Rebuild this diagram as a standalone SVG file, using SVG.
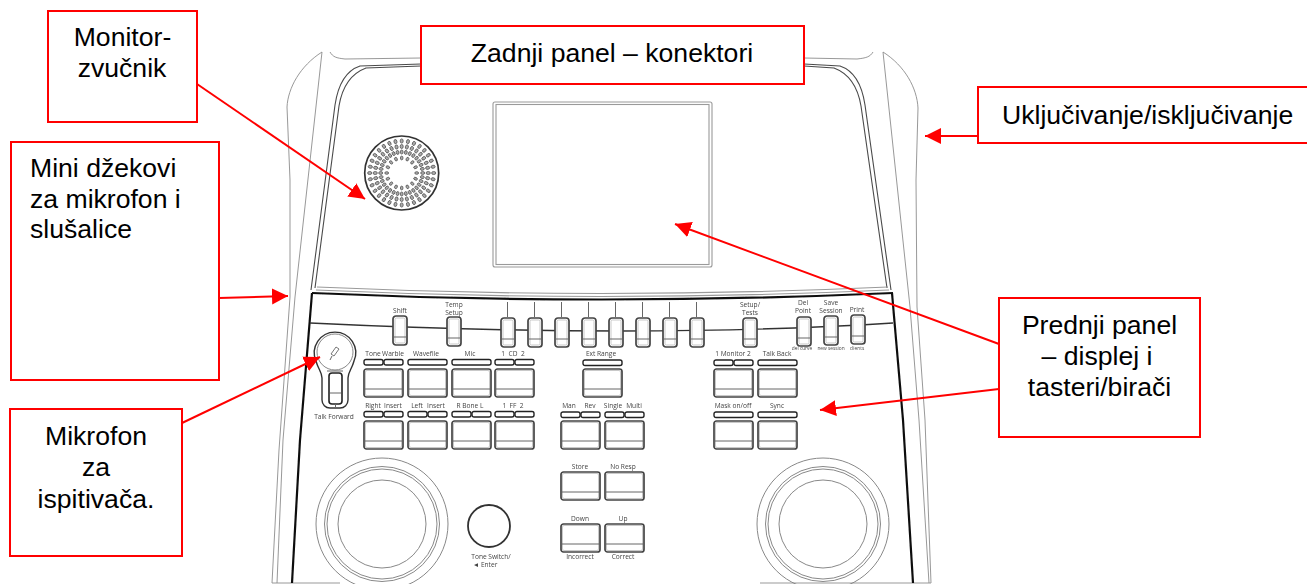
<svg xmlns="http://www.w3.org/2000/svg" width="1307" height="584" viewBox="0 0 1307 584">
<style>
.thin{fill:none;stroke:#8c8c8c;stroke-width:.9}
.bz{fill:none;stroke:#4a4a4a;stroke-width:1.1}
.lt{fill:none;stroke:#9a9a9a;stroke-width:1.1}
.hv{fill:none;stroke:#111;stroke-width:2.2}
.ln{fill:none;stroke:#333;stroke-width:1.4}
.tick{stroke:#666;stroke-width:1}
.b{fill:#fff;stroke:#444;stroke-width:1.7}
.bi{fill:none;stroke:#bbb;stroke-width:.8}
.bl{stroke:#666;stroke-width:1}
.p{fill:#fff;stroke:#222;stroke-width:1.4}
.k{fill:none;stroke:#888;stroke-width:1}
.h{fill:#aaa;stroke:#555;stroke-width:.8}
.t{font-family:"Open Sans","Liberation Sans",sans-serif;font-size:6.6px;fill:#444;text-anchor:middle}
.s{font-size:4.8px}
.box{fill:#fff;stroke:#f00;stroke-width:2}
.lab{font-family:"Liberation Sans",Arial,sans-serif;font-size:26.6px;fill:#000}
.m{text-anchor:middle}
.arr{fill:none;stroke:#f00;stroke-width:2;marker-end:url(#head)}
</style>
<defs>
<filter id="soft" x="-2%" y="-2%" width="104%" height="104%"><feGaussianBlur stdDeviation="0.35"/></filter>
<marker id="head" markerUnits="userSpaceOnUse" markerWidth="18" markerHeight="18" refX="16" refY="8" orient="auto"><path d="M0 0L16 8L0 16Z" fill="#f00"/></marker>
<g id="btn"><rect class="b" x="0" y="0" width="39" height="28" rx="2.5"/><rect class="bi" x="1.5" y="1.5" width="36" height="25" rx="1.5"/><path class="bl" d="M1 20H38"/></g>
<g id="tog"><rect class="b" x="0" y="0" width="14" height="29" rx="3"/><rect class="bi" x="2" y="2" width="10" height="25" rx="1.5"/><path class="bl" d="M1 21H13"/></g>
<rect id="p1" class="p" width="19" height="5.500" rx="2"/>
<rect id="p2" class="p" width="39" height="5.500" rx="2"/>
<g id="ray"><ellipse class="h" cx="401.700" cy="141" rx="1.500" ry="2.100"/><ellipse class="h" cx="401.700" cy="146.500" rx="1.500" ry="2.100"/><ellipse class="h" cx="401.700" cy="152" rx="1.400" ry="2"/></g>
<g id="pair"><use href="#ray"/><ellipse class="h" cx="401.700" cy="158" rx="1.300" ry="1.900"/><use href="#ray" transform="rotate(11.25 401.700 173)"/></g>
</defs>
<g id="device" filter="url(#soft)">
<path class="thin" d="M322 52C300 66 288 88 287 107L290 180V297L279 450L272 583"/>
<path class="thin" d="M322 52L295 297L283 440L277 583"/>
<path class="thin" d="M330 52C333 57 336 58 345 59L421 58"/>
<path class="thin" d="M883 52C905 66 917 88 918 108L916 180L917 307L925 420L931 583"/>
<path class="thin" d="M883 52L910 307L919 420L929 583"/>
<path class="thin" d="M873 52C870 57 866 58 857 59L804 58"/>
<path class="thin" d="M272 583H292M913 583H931"/>
<path class="lt" d="M292 583H340M760 583H913"/>
<path class="bz" d="M311 290L335 105C338 85 345 71 360 66L421 64"/>
<path class="bz" d="M315 288L339 106C342 88 350 74 366 68L421 66"/>
<path class="bz" d="M891 290L865 105C862 85 855 71 840 66L804 64"/>
<path class="bz" d="M887 288L861 106C858 88 850 74 834 68L804 66"/>
<rect class="lt" x="493" y="102" width="219" height="165" rx="2"/>
<rect class="lt" x="496" y="104.500" width="213" height="160"/>
<path class="lt" d="M317 287Q600 300 888 287"/>
<path class="lt" d="M316 290Q600 303 889 290"/>
<path class="hv" d="M312 293Q600 306 893 293"/>
<path class="hv" d="M312 293L300 440L292 583"/>
<path class="hv" d="M892 293L903 420L913 583"/>
<path class="ln" d="M310 323Q640 339 893 323"/>
<g id="speaker"><circle cx="401.700" cy="173" r="37" fill="#fff" stroke="#333" stroke-width="1.700"/>
<use href="#pair"/><use href="#pair" transform="rotate(22.5 401.700 173)"/><use href="#pair" transform="rotate(45 401.700 173)"/><use href="#pair" transform="rotate(67.5 401.700 173)"/><use href="#pair" transform="rotate(90 401.700 173)"/><use href="#pair" transform="rotate(112.5 401.700 173)"/><use href="#pair" transform="rotate(135 401.700 173)"/><use href="#pair" transform="rotate(157.5 401.700 173)"/><use href="#pair" transform="rotate(180 401.700 173)"/><use href="#pair" transform="rotate(202.5 401.700 173)"/><use href="#pair" transform="rotate(225 401.700 173)"/><use href="#pair" transform="rotate(247.5 401.700 173)"/><use href="#pair" transform="rotate(270 401.700 173)"/><use href="#pair" transform="rotate(292.5 401.700 173)"/><use href="#pair" transform="rotate(315 401.700 173)"/><use href="#pair" transform="rotate(337.5 401.700 173)"/></g>
<g id="toggles">
<use href="#tog" x="393" y="316"/><use href="#tog" x="447" y="317"/>
<use href="#tog" x="501" y="318"/><use href="#tog" x="528" y="318"/><use href="#tog" x="555" y="318"/><use href="#tog" x="582" y="318"/><use href="#tog" x="609" y="318"/><use href="#tog" x="636" y="318"/><use href="#tog" x="663" y="318"/><use href="#tog" x="690" y="318"/>
<use href="#tog" x="743" y="318"/><use href="#tog" x="797" y="317"/><use href="#tog" x="824" y="316"/><use href="#tog" x="851" y="315"/>
<path class="tick" d="M507.500 302V317M534.500 302V317M561.500 302V317M588.500 302V317M615.500 302V317M642.500 302V317M669.500 302V317M696.500 302V317"/>
</g>
<g id="pills">
<use href="#p1" x="364" y="359.500"/><use href="#p1" x="384" y="359.500"/><use href="#p2" x="408" y="359.500"/><use href="#p2" x="452" y="359.500"/><use href="#p1" x="495" y="359.500"/><use href="#p1" x="515" y="359.500"/>
<use href="#p2" x="583" y="360"/><use href="#p1" x="714" y="360"/><use href="#p1" x="734" y="360"/><use href="#p2" x="758" y="360"/>
<use href="#p1" x="364" y="411.500"/><use href="#p1" x="384" y="411.500"/><use href="#p1" x="408" y="411.500"/><use href="#p1" x="428" y="411.500"/><use href="#p1" x="452" y="411.500"/><use href="#p1" x="472" y="411.500"/><use href="#p1" x="495" y="411.500"/><use href="#p1" x="515" y="411.500"/>
<use href="#p1" x="561" y="412"/><use href="#p1" x="581" y="412"/><use href="#p1" x="605" y="412"/><use href="#p1" x="625" y="412"/><use href="#p2" x="714" y="412"/><use href="#p2" x="758" y="412"/>
</g>
<g id="buttons">
<use href="#btn" x="364" y="369"/><use href="#btn" x="408" y="369"/><use href="#btn" x="452" y="369"/><use href="#btn" x="495" y="369"/><use href="#btn" x="583" y="369"/><use href="#btn" x="714" y="369"/><use href="#btn" x="758" y="369"/>
<use href="#btn" x="364" y="421"/><use href="#btn" x="408" y="421"/><use href="#btn" x="452" y="421"/><use href="#btn" x="495" y="421"/><use href="#btn" x="561" y="421"/><use href="#btn" x="605" y="421"/><use href="#btn" x="714" y="421"/><use href="#btn" x="758" y="421"/>
<use href="#btn" x="561" y="472"/><use href="#btn" x="605" y="472"/><use href="#btn" x="561" y="524"/><use href="#btn" x="605" y="524"/>
</g>
<g id="mic">
<path d="M322 400V378C322 372 318 369 316 361A20.700 20.700 0 1 1 354 361C352 369 348 372 348 378V400A8 8 0 0 1 340 408H330A8 8 0 0 1 322 400Z" fill="#fff" stroke="#333" stroke-width="1.400"/>
<circle cx="335" cy="352" r="18" fill="#fff" stroke="#888" stroke-width="1"/>
<rect x="329" y="373" width="13" height="31" rx="3" fill="#fff" stroke="#222" stroke-width="1.600"/>
<path class="bl" d="M330 393H341M335.500 404V408M327 371H343"/>
<path d="M336 347L339 349L334 356L331 354Z" fill="#fff" stroke="#666" stroke-width=".9"/><path class="tick" d="M332 356L330 360"/>
</g>
<g id="knobs">
<circle class="k" cx="382" cy="524" r="66"/><circle class="k" cx="382" cy="524" r="57.500"/><circle class="k" cx="382" cy="524" r="55"/><circle class="k" cx="382" cy="524" r="44"/>
<circle class="k" cx="823" cy="524" r="66"/><circle class="k" cx="823" cy="524" r="57.500"/><circle class="k" cx="823" cy="524" r="55"/><circle class="k" cx="823" cy="524" r="44"/>
<circle cx="489" cy="526" r="21" fill="#fff" stroke="#333" stroke-width="1.800"/>
</g>
<g id="device-labels">
<text class="t" x="400" y="313">Shift</text><text class="t" x="454" y="307">Temp</text><text class="t" x="454" y="315">Setup</text>
<text class="t" x="750" y="307">Setup/</text><text class="t" x="750" y="315">Tests</text>
<text class="t" x="803" y="305">Del</text><text class="t" x="803" y="313">Point</text><text class="t" x="831" y="305">Save</text><text class="t" x="831" y="313">Session</text><text class="t" x="857" y="312">Print</text>
<text class="t s" x="802" y="350">del curve</text><text class="t s" x="831" y="350">new session</text><text class="t s" x="857" y="350">clients</text>
<text class="t" x="373" y="356">Tone</text><text class="t" x="393" y="356">Warble</text><text class="t" x="426" y="356">Wavefile</text><text class="t" x="470" y="356">Mic</text><text class="t" x="513" y="356" xml:space="preserve">1  CD  2</text><text class="t" x="601" y="356">Ext Range</text><text class="t" x="733" y="356">1 Monitor 2</text><text class="t" x="777" y="356">Talk Back</text>
<text class="t" x="373" y="408">Right</text><text class="t" x="393" y="408">Insert</text><text class="t" x="417" y="408">Left</text><text class="t" x="436" y="408">Insert</text><text class="t" x="470" y="408">R Bone L</text><text class="t" x="513" y="408" xml:space="preserve">1  FF  2</text>
<text class="t" x="569" y="408">Man</text><text class="t" x="590" y="408">Rev</text><text class="t" x="613" y="408">Single</text><text class="t" x="634" y="408">Multi</text><text class="t" x="733" y="408">Mask on/off</text><text class="t" x="777" y="408">Sync</text>
<text class="t" x="334" y="419">Talk Forward</text>
<text class="t" x="580" y="469">Store</text><text class="t" x="623" y="469">No Resp</text><text class="t" x="580" y="521">Down</text><text class="t" x="623" y="521">Up</text><text class="t" x="580" y="559">Incorrect</text><text class="t" x="623" y="559">Correct</text>
<text class="t" x="491" y="559">Tone Switch/</text><text class="t" x="485" y="567">◄ Enter</text>
</g>
</g>
<g id="connectors">
<path class="arr" d="M197 84L365 199"/>
<path class="arr" d="M219 298L288 296"/>
<path class="arr" d="M182 423L320 357"/>
<path class="arr" d="M978 136H925"/>
<path class="arr" d="M999 344L675 224"/>
<path class="arr" d="M999 389L820 410"/>
</g>
<g id="node-monitor"><rect class="box" x="48" y="11" width="149" height="111"/><text class="lab m" x="122.500" y="46">Monitor-</text><text class="lab m" x="122" y="77">zvučnik</text></g>
<g id="node-rear"><rect class="box" x="421" y="26" width="383" height="58"/><text class="lab m" x="612" y="62">Zadnji panel – konektori</text></g>
<g id="node-power"><rect class="box" x="978" y="87" width="340" height="56"/><text class="lab" x="1002" y="124">Uključivanje/isključivanje</text></g>
<g id="node-jacks"><rect class="box" x="11" y="142" width="208" height="238"/><text class="lab" x="30" y="177">Mini džekovi</text><text class="lab" x="30" y="208">za mikrofon i</text><text class="lab" x="30" y="238">slušalice</text></g>
<g id="node-examiner"><rect class="box" x="10" y="409" width="172" height="147"/><text class="lab m" x="96" y="445">Mikrofon</text><text class="lab m" x="96" y="476">za</text><text class="lab m" x="96" y="508">ispitivača.</text></g>
<g id="node-front"><rect class="box" x="999" y="298" width="201" height="139"/><text class="lab m" x="1099.500" y="334">Prednji panel</text><text class="lab m" x="1097" y="365">– displej i</text><text class="lab m" x="1099.500" y="396">tasteri/birači</text></g>
</svg>
